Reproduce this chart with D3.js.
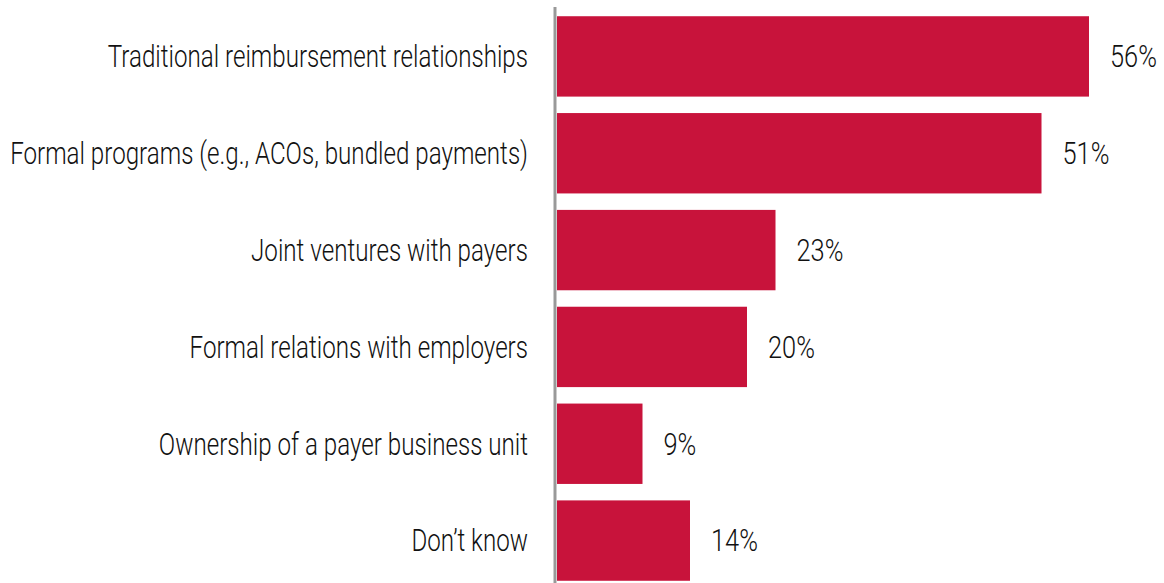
<!DOCTYPE html>
<html>
<head>
<meta charset="utf-8">
<script src="https://cdn.jsdelivr.net/npm/d3@7"></script>
<style>
  html, body { margin: 0; padding: 0; background: #fff; }
  svg text { font-family: Roboto, "Liberation Sans", sans-serif; font-weight: 300; fill: #111; }
</style>
</head>
<body>
<svg id="chart" width="1164" height="583"></svg>
<script>
const categories = [
  "Traditional reimbursement relationships",
  "Formal programs (e.g., ACOs, bundled payments)",
  "Joint ventures with payers",
  "Formal relations with employers",
  "Ownership of a payer business unit",
  "Don\u2019t know"
];
const values = [56, 51, 23, 20, 9, 14];
const valueLabels = ["56%", "51%", "23%", "20%", "9%", "14%"];

const W = 1164, H = 583;
const axisX = 555;
const labelRight = 528;
const labelColumn = 518;   // widest label spans this many pixels
const fontSize = 31;

const svg = d3.select("#chart");

const x = d3.scaleLinear().domain([0, 56]).range([axisX + 2, 1089]);
const y = d3.scaleBand().domain(categories).range([8, 589]).paddingInner(0.17).paddingOuter(0.085);

const rows = categories.map((c, i) => ({ cat: c, value: values[i], label: valueLabels[i] }));

svg.selectAll("rect.bar").data(rows).join("rect")
  .attr("class", "bar")
  .attr("x", x(0))
  .attr("y", d => y(d.cat))
  .attr("width", d => x(d.value) - x(0))
  .attr("height", y.bandwidth())
  .attr("fill", "#c8133b");

// vertical baseline
svg.append("line")
  .attr("x1", axisX).attr("x2", axisX)
  .attr("y1", 7).attr("y2", H)
  .attr("stroke", "#999").attr("stroke-width", 3);

// condensed type: measure the longest label once and derive a horizontal squeeze
const probe = svg.append("text").attr("font-size", fontSize).text(categories[1]);
const squeeze = labelColumn / probe.node().getComputedTextLength();
probe.remove();

// category labels
svg.selectAll("g.cat").data(rows).join("g")
  .attr("class", "cat")
  .attr("transform", d => `translate(${labelRight},${y(d.cat) + y.bandwidth() / 2}) scale(${squeeze},1)`)
  .append("text")
  .attr("dy", "0.35em")
  .attr("text-anchor", "end")
  .attr("font-size", fontSize)
  .text(d => d.cat);

// value labels
svg.selectAll("g.val").data(rows).join("g")
  .attr("class", "val")
  .attr("transform", d => `translate(${x(d.value) + 21},${y(d.cat) + y.bandwidth() / 2}) scale(${squeeze * 1.05},1)`)
  .append("text")
  .attr("dy", "0.35em")
  .attr("font-size", fontSize)
  .text(d => d.label);
</script>
</body>
</html>
